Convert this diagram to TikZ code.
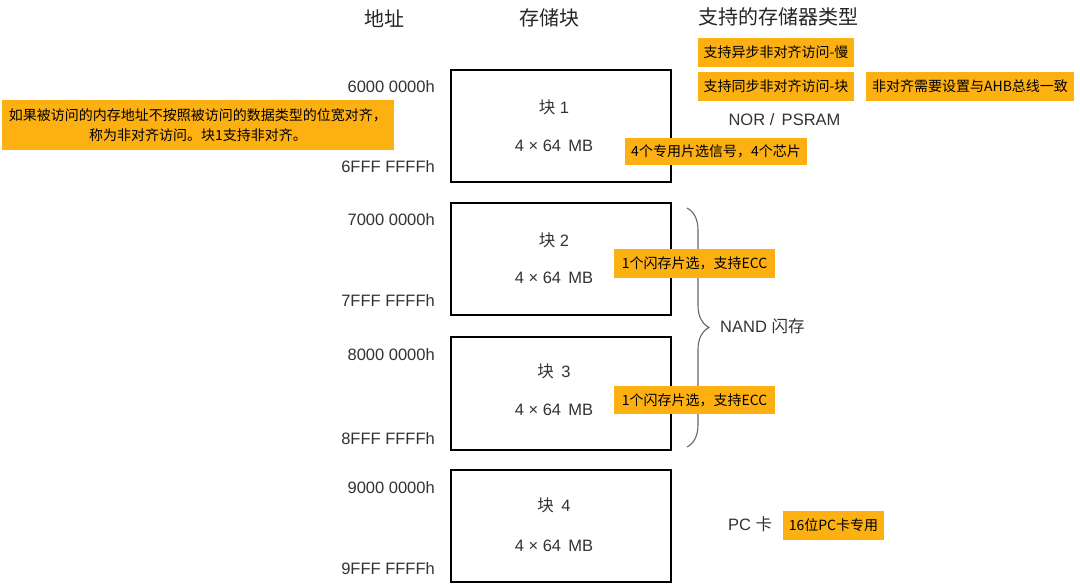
\documentclass[tikz,border=0pt]{standalone}
\usepackage{fontspec}
\setmainfont{Liberation Sans}
\newfontfamily\cjk{Noto Sans CJK SC}
\usetikzlibrary{decorations.pathreplacing}
\definecolor{note}{HTML}{FDB012}
\definecolor{txt}{HTML}{333333}
\tikzset{
  blockbox/.style={draw=black, line width=2.8pt, fill=white},
  addr/.style={anchor=east, text=txt, inner sep=0pt, font=\fontsize{16.5}{18}\selectfont},
  lbl/.style={text=txt, inner sep=0pt, font=\fontsize{16.5}{18}\selectfont},
  head/.style={text=black!85, inner sep=0pt, font=\cjk\fontsize{20}{22}\selectfont},
  notebox/.style={fill=note, inner sep=0pt, text=black, font=\cjk\fontsize{14}{20}\selectfont},
}
\begin{document}
\begin{tikzpicture}[x=1pt,y=-1pt]
\useasboundingbox (0,0) rectangle (1080,586);
\fill[white] (0,0) rectangle (1080,586);

% headers
\node[head] (h1) at (384,19) {地址};
\node[head] (h2) at (549,18) {存储块};
\node[head] (h3) at (778,17) {支持的存储器类型};

% blocks
\node[blockbox, minimum width=220pt, minimum height=112pt] (b1) at (561,126) {};
\node[blockbox, minimum width=220pt, minimum height=112pt] (b2) at (561,259) {};
\node[blockbox, minimum width=220pt, minimum height=113pt] (b3) at (561,393.5) {};
\node[blockbox, minimum width=220pt, minimum height=112pt] (b4) at (561,526) {};

\node[lbl] (b1t) at (554,107) {{\cjk 块} 1};
\node[lbl] (b1s) at (554,146) {4 × 64 \,MB};
\node[lbl] (b2t) at (554,240) {{\cjk 块} 2};
\node[lbl] (b2s) at (554,278) {4 × 64 \,MB};
\node[lbl] (b3t) at (554,371) {{\cjk 块} \,3};
\node[lbl] (b3s) at (554,410) {4 × 64 \,MB};
\node[lbl] (b4t) at (554,505) {{\cjk 块} \,4};
\node[lbl] (b4s) at (554,546) {4 × 64 \,MB};

% addresses
\node[addr] (a1) at (435,87) {6000 0000h};
\node[addr] (a2) at (435,167) {6FFF FFFFh};
\node[addr] (a3) at (435,220) {7000 0000h};
\node[addr] (a4) at (435,301) {7FFF FFFFh};
\node[addr] (a5) at (435,355) {8000 0000h};
\node[addr] (a6) at (435,439) {8FFF FFFFh};
\node[addr] (a7) at (435,487.5) {9000 0000h};
\node[addr] (a8) at (435,569) {9FFF FFFFh};

% memory types
\node[lbl] (nor) at (784.5,119.5) {NOR / \,PSRAM};
\node[lbl, anchor=west] (nand) at (720,326) {NAND {\cjk 闪存}};
\node[lbl] (pc) at (750,524) {PC {\cjk 卡}};

% brace
\coordinate (bt) at (687,208);
\coordinate (bb) at (687,447);
\draw[black!60, line width=1.1pt, decorate, decoration={brace, amplitude=22pt}] (bt) -- (bb);

% notes
\node[notebox, minimum width=156pt, minimum height=29pt] (n1) at (776,52.5) {支持异步非对齐访问-慢};
\node[notebox, minimum width=156pt, minimum height=29pt] (n2) at (776,86.5) {支持同步非对齐访问-块};
\node[notebox, minimum width=208pt, minimum height=29pt] (n3) at (970,86.5) {非对齐需要设置与AHB总线一致};
\node[notebox, minimum width=182pt, minimum height=27pt] (n4) at (716,151.5) {4个专用片选信号，4个芯片};
\node[notebox, minimum width=392pt, minimum height=50pt, align=center] (n5) at (198,125) {如果被访问的内存地址不按照被访问的数据类型的位宽对齐，\\称为非对齐访问。块1支持非对齐。};
\node[notebox, minimum width=161pt, minimum height=29pt] (n6) at (694.5,263.5) {1个闪存片选，支持ECC};
\node[notebox, minimum width=161pt, minimum height=28pt] (n7) at (694.5,400) {1个闪存片选，支持ECC};
\node[notebox, minimum width=101pt, minimum height=29pt] (n8) at (833.5,525.5) {16位PC卡专用};
\end{tikzpicture}
\end{document}
